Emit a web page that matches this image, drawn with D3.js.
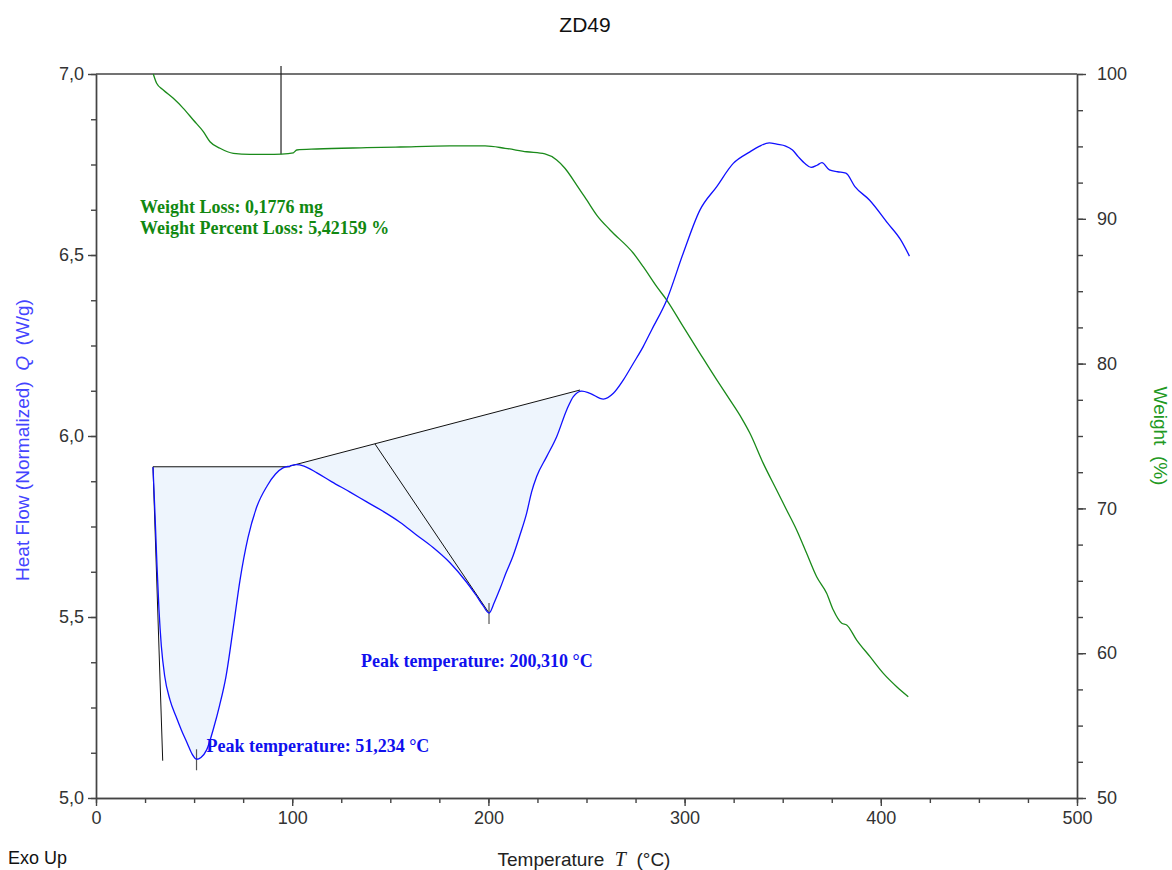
<!DOCTYPE html>
<html><head><meta charset="utf-8">
<script src="https://cdn.jsdelivr.net/npm/d3@7"></script>
<style>body{margin:0;background:#fff;} svg{display:block;} text{white-space:pre;}</style>
</head><body><svg id="chart" width="1172" height="870"></svg>
<script>
// ---- DSC heat flow (blue) ----
const dscT = [29.05,30.1,31.1,32.1,33.3,35.0,37.7,40.8,43.5,46.6,49.0,51.234,53.5,56.4,60.1,63.0,66.2,70.0,73.4,77.5,82.0,87.2,91.5,95.3,98.9,102.0,106.0,112.6,120.0,129.5,138.0,146.3,154.9,163.0,171.8,180.4,188.9,194.0,197.2,200.31,203.0,205.9,209.0,212.5,216.0,219.5,222.0,224.6,229.7,234.8,239.9,243.3,247.6,251.8,258.6,263.7,268.8,273.9,278.9,283.2,290.9,299.3,307.8,316.4,324.8,333.3,338.0,343.2,347.0,351.5,355.0,358.0,361.5,364.5,367.5,370.0,373.8,378.0,382.2,386.8,394.2,403.5,410.0,414.6];
const dscQ = [5.914,5.780,5.640,5.520,5.420,5.337,5.271,5.225,5.188,5.150,5.121,5.107,5.112,5.133,5.196,5.256,5.334,5.472,5.602,5.720,5.805,5.862,5.895,5.912,5.917,5.921,5.917,5.898,5.874,5.845,5.818,5.792,5.762,5.728,5.692,5.650,5.596,5.558,5.532,5.511,5.540,5.578,5.622,5.668,5.725,5.787,5.845,5.888,5.943,5.998,6.072,6.109,6.124,6.118,6.102,6.118,6.155,6.201,6.247,6.293,6.376,6.505,6.624,6.689,6.753,6.785,6.800,6.810,6.806,6.801,6.790,6.771,6.752,6.742,6.748,6.755,6.735,6.730,6.726,6.689,6.652,6.588,6.543,6.497];
// ---- TGA weight (green) ----
const tgaT = [29.2,30.9,34.3,39.4,44.5,49.6,54.7,58.1,63.2,70.0,78.5,87.0,94.6,100.6,102.3,112.5,138.0,155.0,180.4,198.3,208.5,219.5,228.8,234.8,239.0,245.0,250.1,255.2,262.0,273.9,278.9,285.8,290.9,299.3,307.8,316.4,323.1,329.1,333.3,340.1,346.9,352.0,357.1,362.2,367.3,372.4,375.8,380.1,382.6,387.7,394.5,401.3,408.1,414.0];
const tgaW = [100.0,99.36,98.90,98.32,97.63,96.82,96.02,95.32,94.87,94.52,94.45,94.45,94.47,94.56,94.75,94.82,94.91,94.96,95.03,95.03,94.87,94.63,94.48,94.06,93.49,92.33,91.30,90.26,89.23,87.62,86.69,85.31,84.39,82.55,80.71,78.87,77.49,76.22,75.19,73.11,71.27,69.89,68.51,66.90,65.28,64.14,62.98,62.07,61.95,60.91,59.76,58.61,57.69,57.00];
// ---- integration baselines / construction lines ----
const base1T = [29.05, 98.9];  const base1Q = [5.915, 5.915];
const base2T = [98.9, 246.7];  const base2Q = [5.917, 6.127];
const onsetT = [29.05, 34.0];  const onsetQ = [5.915, 5.103];
const splitT = [142.2, 200.31]; const splitQ = [5.978, 5.511];
const peakT = [51.234, 200.31]; const peakQ = [5.107, 5.511];
const peakLabels = ["Peak temperature: 51,234 °C", "Peak temperature: 200,310 °C"];
const lossT = 94.3, lossW = 94.45;
const lossLabels = ["Weight Loss: 0,1776 mg", "Weight Percent Loss: 5,42159 %"];
// ---- ticks ----
const xMajor = [0,100,200,300,400,500];
const xMinor = d3.range(0, 501, 25);
const qMajor = [5.0,5.5,6.0,6.5,7.0];
const qMinor = d3.range(5.0, 7.001, 0.125);
const wMajor = [50,60,70,80,90,100];
const wMinor = d3.range(50, 100.001, 2.5);

const m = {l:96, r:1077, t:74, b:798};
const svg = d3.select("#chart");
const x = d3.scaleLinear().domain([0,500]).range([m.l, m.r]);
const yQ = d3.scaleLinear().domain([5,7]).range([m.b, m.t]);
const yW = d3.scaleLinear().domain([50,100]).range([m.b, m.t]);
const loc = d3.formatLocale({decimal:",", thousands:".", grouping:[3], currency:["",""]});
const f1 = loc.format(".1f");
const sans = "'Liberation Sans', Arial, sans-serif";
const serif = "'Liberation Serif', 'Times New Roman', serif";
const axisCol = "#444";
const curve = d3.curveMonotoneX;

// fills
const dsc = dscT.map((t,i)=>({t, q: dscQ[i]}));
const bl1 = d3.scaleLinear().domain(base1T).range(base1Q);
const bl2 = d3.scaleLinear().domain(base2T).range(base2Q);
const fill1 = dsc.filter(d => d.t >= base1T[0] && d.t <= base1T[1]);
const fill2 = dsc.filter(d => d.t >= base2T[0] && d.t <= 247.6);
const area1 = d3.area().curve(curve).x(d=>x(d.t)).y0(d=>yQ(bl1(d.t))).y1(d=>yQ(d.q));
const area2 = d3.area().curve(curve).x(d=>x(d.t)).y0(d=>yQ(bl2(Math.min(d.t, base2T[1])))).y1(d=>yQ(d.q));
svg.append("path").attr("d", area1(fill1)).attr("fill","#eef5fd");
svg.append("path").attr("d", area2(fill2)).attr("fill","#eef5fd");

// axes
function styleAxis(g){ g.selectAll("path,line").attr("stroke",axisCol).attr("stroke-width",1.4);
  g.selectAll("text").attr("fill","#333").style("font-family",sans).style("font-size","18px"); }
svg.append("g").attr("transform",`translate(0,${m.b})`)
  .call(d3.axisBottom(x).tickValues(xMinor).tickSize(5).tickSizeOuter(0).tickFormat("")).call(styleAxis);
svg.append("g").attr("transform",`translate(0,${m.b})`)
  .call(d3.axisBottom(x).tickValues(xMajor).tickSize(8).tickSizeOuter(0).tickPadding(5).tickFormat(d3.format("d"))).call(styleAxis);
svg.append("g").attr("transform",`translate(${m.l},0)`)
  .call(d3.axisLeft(yQ).tickValues(qMinor).tickSize(5).tickSizeOuter(0).tickFormat("")).call(styleAxis);
svg.append("g").attr("transform",`translate(${m.l},0)`)
  .call(d3.axisLeft(yQ).tickValues(qMajor).tickSize(8).tickSizeOuter(0).tickPadding(4).tickFormat(f1)).call(styleAxis);
svg.append("g").attr("transform",`translate(${m.r},0)`)
  .call(d3.axisRight(yW).tickValues(wMinor).tickSize(6).tickSizeOuter(0).tickFormat("")).call(styleAxis);
svg.append("g").attr("transform",`translate(${m.r},0)`)
  .call(d3.axisRight(yW).tickValues(wMajor).tickSize(9).tickSizeOuter(0).tickPadding(11).tickFormat(d3.format("d"))).call(styleAxis);
svg.append("line").attr("x1",m.l).attr("x2",m.r).attr("y1",m.t).attr("y2",m.t).attr("stroke",axisCol).attr("stroke-width",1.4);

// construction lines
const seg = (tx, qy, ys) => svg.append("line")
  .attr("x1", x(tx[0])).attr("y1", ys(qy[0])).attr("x2", x(tx[1])).attr("y2", ys(qy[1]))
  .attr("stroke","#111").attr("stroke-width",1);
seg(base1T, base1Q, yQ);
seg(base2T, base2Q, yQ);
seg(onsetT, onsetQ, yQ);
seg(splitT, splitQ, yQ);
peakT.forEach((t,i)=>{
  svg.append("line").attr("x1",x(t)).attr("x2",x(t)).attr("y1",yQ(peakQ[i])-10).attr("y2",yQ(peakQ[i])+11)
    .attr("stroke","#555").attr("stroke-width",1.2);
});
svg.append("line").attr("x1",x(lossT)).attr("x2",x(lossT)).attr("y1",m.t-8).attr("y2",yW(lossW))
  .attr("stroke","#222").attr("stroke-width",1.2);

// curves
const tga = tgaT.map((t,i)=>({t, w: tgaW[i]}));
svg.append("path").attr("d", d3.line().curve(curve).x(d=>x(d.t)).y(d=>yW(d.w))(tga))
  .attr("fill","none").attr("stroke","#1a8a1a").attr("stroke-width",1.3);
svg.append("path").attr("d", d3.line().curve(curve).x(d=>x(d.t)).y(d=>yQ(d.q))(dsc))
  .attr("fill","none").attr("stroke","#1010ff").attr("stroke-width",1.3);

// annotations
const ann = (tx, xx, yy, col) => svg.append("text").attr("x",xx).attr("y",yy).text(tx)
  .attr("fill",col).style("font-family",serif).style("font-weight","bold").style("font-size","18px");
ann(lossLabels[0], 140, 213, "#118811");
ann(lossLabels[1], 140, 234, "#118811");
ann(peakLabels[0], x(peakT[0])+10, 752, "#1010ee");
ann(peakLabels[1], 361, 667, "#1010ee");

// titles
svg.append("text").attr("x",585).attr("y",32).attr("text-anchor","middle").text("ZD49")
  .attr("fill","#111").style("font-family",sans).style("font-size","21px");
svg.append("text").attr("x",8).attr("y",864).text("Exo Up")
  .attr("fill","#111").style("font-family",sans).style("font-size","18px");
const xl = svg.append("text").attr("x",584).attr("y",866).attr("text-anchor","middle")
  .attr("fill","#222").style("font-family",sans).style("font-size","19px");
xl.append("tspan").text("Temperature  ");
xl.append("tspan").text("T").style("font-family",serif).style("font-style","italic").style("font-size","20px");
xl.append("tspan").text("  (°C)");
const yl = svg.append("text").attr("transform","translate(29,440) rotate(-90)").attr("text-anchor","middle")
  .attr("fill","#4444ff").style("font-family",sans).style("font-size","19px");
yl.append("tspan").text("Heat Flow (Normalized)  ");
yl.append("tspan").text("Q").style("font-style","italic");
yl.append("tspan").text("  (W/g)");
svg.append("text").attr("transform","translate(1154,436) rotate(90)").attr("text-anchor","middle")
  .attr("fill","#229922").style("font-family",sans).style("font-size","19px").text("Weight  (%)");
</script></body></html>
